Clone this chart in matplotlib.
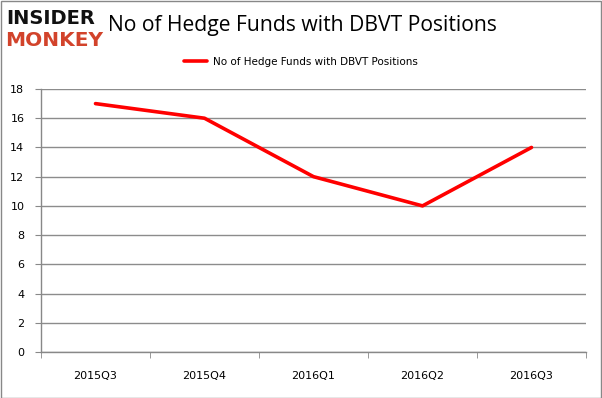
import matplotlib
matplotlib.use("Agg")
import matplotlib.pyplot as plt
from matplotlib.patches import Rectangle

categories = ["2015Q3", "2015Q4", "2016Q1", "2016Q2", "2016Q3"]
values = [17, 16, 12, 10, 14]
series_name = "No of Hedge Funds with DBVT Positions"
title = "No of Hedge Funds with DBVT Positions"
yticks = [0, 2, 4, 6, 8, 10, 12, 14, 16, 18]

fig = plt.figure(figsize=(6.02, 3.98), dpi=100)
ax = fig.add_axes([41/602, 1-352/398, (586-41)/602, (352-89)/398])

x = list(range(len(categories)))
ax.plot(x, values, color="#ff0000", lw=2.6, label=series_name, solid_capstyle="round")
ax.set_xlim(-0.5, len(categories)-0.5)
ax.set_ylim(0, 18)
ax.set_yticks(yticks)
ax.set_yticklabels([str(v) for v in yticks], fontsize=8, family="DejaVu Sans")
ax.set_xticks(x)
ax.set_xticklabels(categories, fontsize=8, family="DejaVu Sans")
ax.tick_params(axis="x", length=0, pad=14)
ax.set_xticks([i - 0.5 for i in range(len(categories)+1)], minor=True)
ax.tick_params(axis="x", which="minor", length=4, color="#888888", direction="out")
ax.tick_params(axis="y", length=4, color="#888888", direction="out", pad=8)
ax.yaxis.grid(True, color="#8c8c8c", lw=1)
ax.set_axisbelow(True)
for s in ["top", "right"]:
    ax.spines[s].set_visible(False)
for s in ["left", "bottom"]:
    ax.spines[s].set_color("#888888")
    ax.spines[s].set_linewidth(1)

fig.text(302/602, 1-25/398, title, ha="center", va="center", fontsize=15.2, family="Open Sans")

leg = fig.legend(loc="center", bbox_to_anchor=(0.5, 1-62/398), frameon=False,
                 prop={"size": 7.5, "family": "DejaVu Sans"}, handlelength=2.2, handletextpad=0.6)

fig.text(6/602, 1-18/398, "INSIDER", fontsize=14, fontweight="heavy", color="#111111",
         family="DejaVu Sans", va="center", ha="left")
fig.text(5/602, 1-41/398, "MONKEY", fontsize=14.5, fontweight="heavy", color="#d2432b",
         family="DejaVu Sans", va="center", ha="left")

fig.patches.append(Rectangle((0.5/602, 0.5/398), 1-1.5/602, 1-1.5/398, transform=fig.transFigure,
                             fill=False, edgecolor="#888888", lw=1))

fig.savefig("out.png", dpi=100)
